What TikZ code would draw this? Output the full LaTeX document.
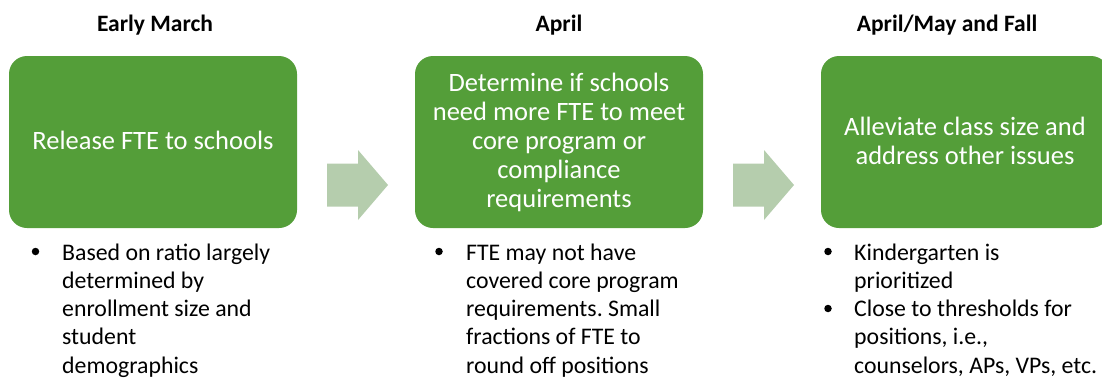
\documentclass[tikz,border=0pt]{standalone}
\usepackage{fontspec}
\setmainfont{Carlito}
\frenchspacing
\definecolor{stepgreen}{RGB}{84,158,57}
\definecolor{flowarrow}{RGB}{181,205,173}
\begin{document}
\begin{tikzpicture}[x=1pt,y=-1pt,
  phase/.style={font=\fontsize{23.5}{28}\selectfont\bfseries, anchor=base, inner sep=0},
  stepbox/.style={fill=stepgreen, rounded corners=18pt, minimum width=288pt, minimum height=172pt, inner sep=0},
  steptext/.style={font=\fontsize{26.5}{29}\selectfont, text=white, align=center, anchor=base, inner sep=0},
  note/.style={font=\fontsize{23.8}{28.3}\selectfont, align=left, anchor=base west, inner sep=0},
  dot/.style={circle, fill=black, inner sep=0, minimum size=7.5pt},
  flow/.style={fill=flowarrow}]
\useasboundingbox (0,0) rectangle (1102,380);

% phase headings
\node[phase] (h1) at (155,31) {Early March};
\node[phase] (h2) at (559,31) {April};
\node[phase] (h3) at (947,31) {April/May and Fall};

% green step boxes
\node[stepbox] (b1) at (153,142) {};
\node[stepbox] (b2) at (559,142) {};
\node[stepbox] (b3) at (965,142) {};

% box texts, placed by the baseline of their last line
\node[steptext] (t1) at (153,149) {Release FTE to schools};
\node[steptext] (t2) at (559,207) {Determine if schools\\need more FTE to meet\\core program or\\compliance\\requirements};
\node[steptext] (t3) at (965,164.5) {Alleviate class size and\\address other issues};

% block arrows between the steps
\coordinate (a1) at (327,142);
\coordinate (a2) at (733,142);
\foreach \a in {a1,a2}{
  \fill[flow] ([yshift=-21.5pt]\a) -- ++(31,0) -- ++(0,-13.5) -- ++(30,35) -- ++(-30,35)
    -- ++(0,-13.5) -- ++(-31,0) -- cycle;
}

% notes under each step (anchored at the last line's baseline)
\node[dot] (d1) at (35.5,251.5) {};
\node[note] (n1) at (62,373.2) {Based on ratio largely\\determined by\\enrollment size and\\student\\demographics};

\node[dot] (d2) at (439,251.5) {};
\node[note] (n2) at (466,373.2) {FTE may not have\\covered core program\\requirements. Small\\fractions of FTE to\\round off positions};

\node[dot] (d3) at (828,251.5) {};
\node[note] (n3) at (854,288.3) {Kindergarten is\\prioritized};
\node[dot] (d4) at (828,308.5) {};
\node[note] (n4) at (854,373.2) {Close to thresholds for\\positions, i.e.,\\counselors, APs, VPs, etc.};
\end{tikzpicture}
\end{document}
